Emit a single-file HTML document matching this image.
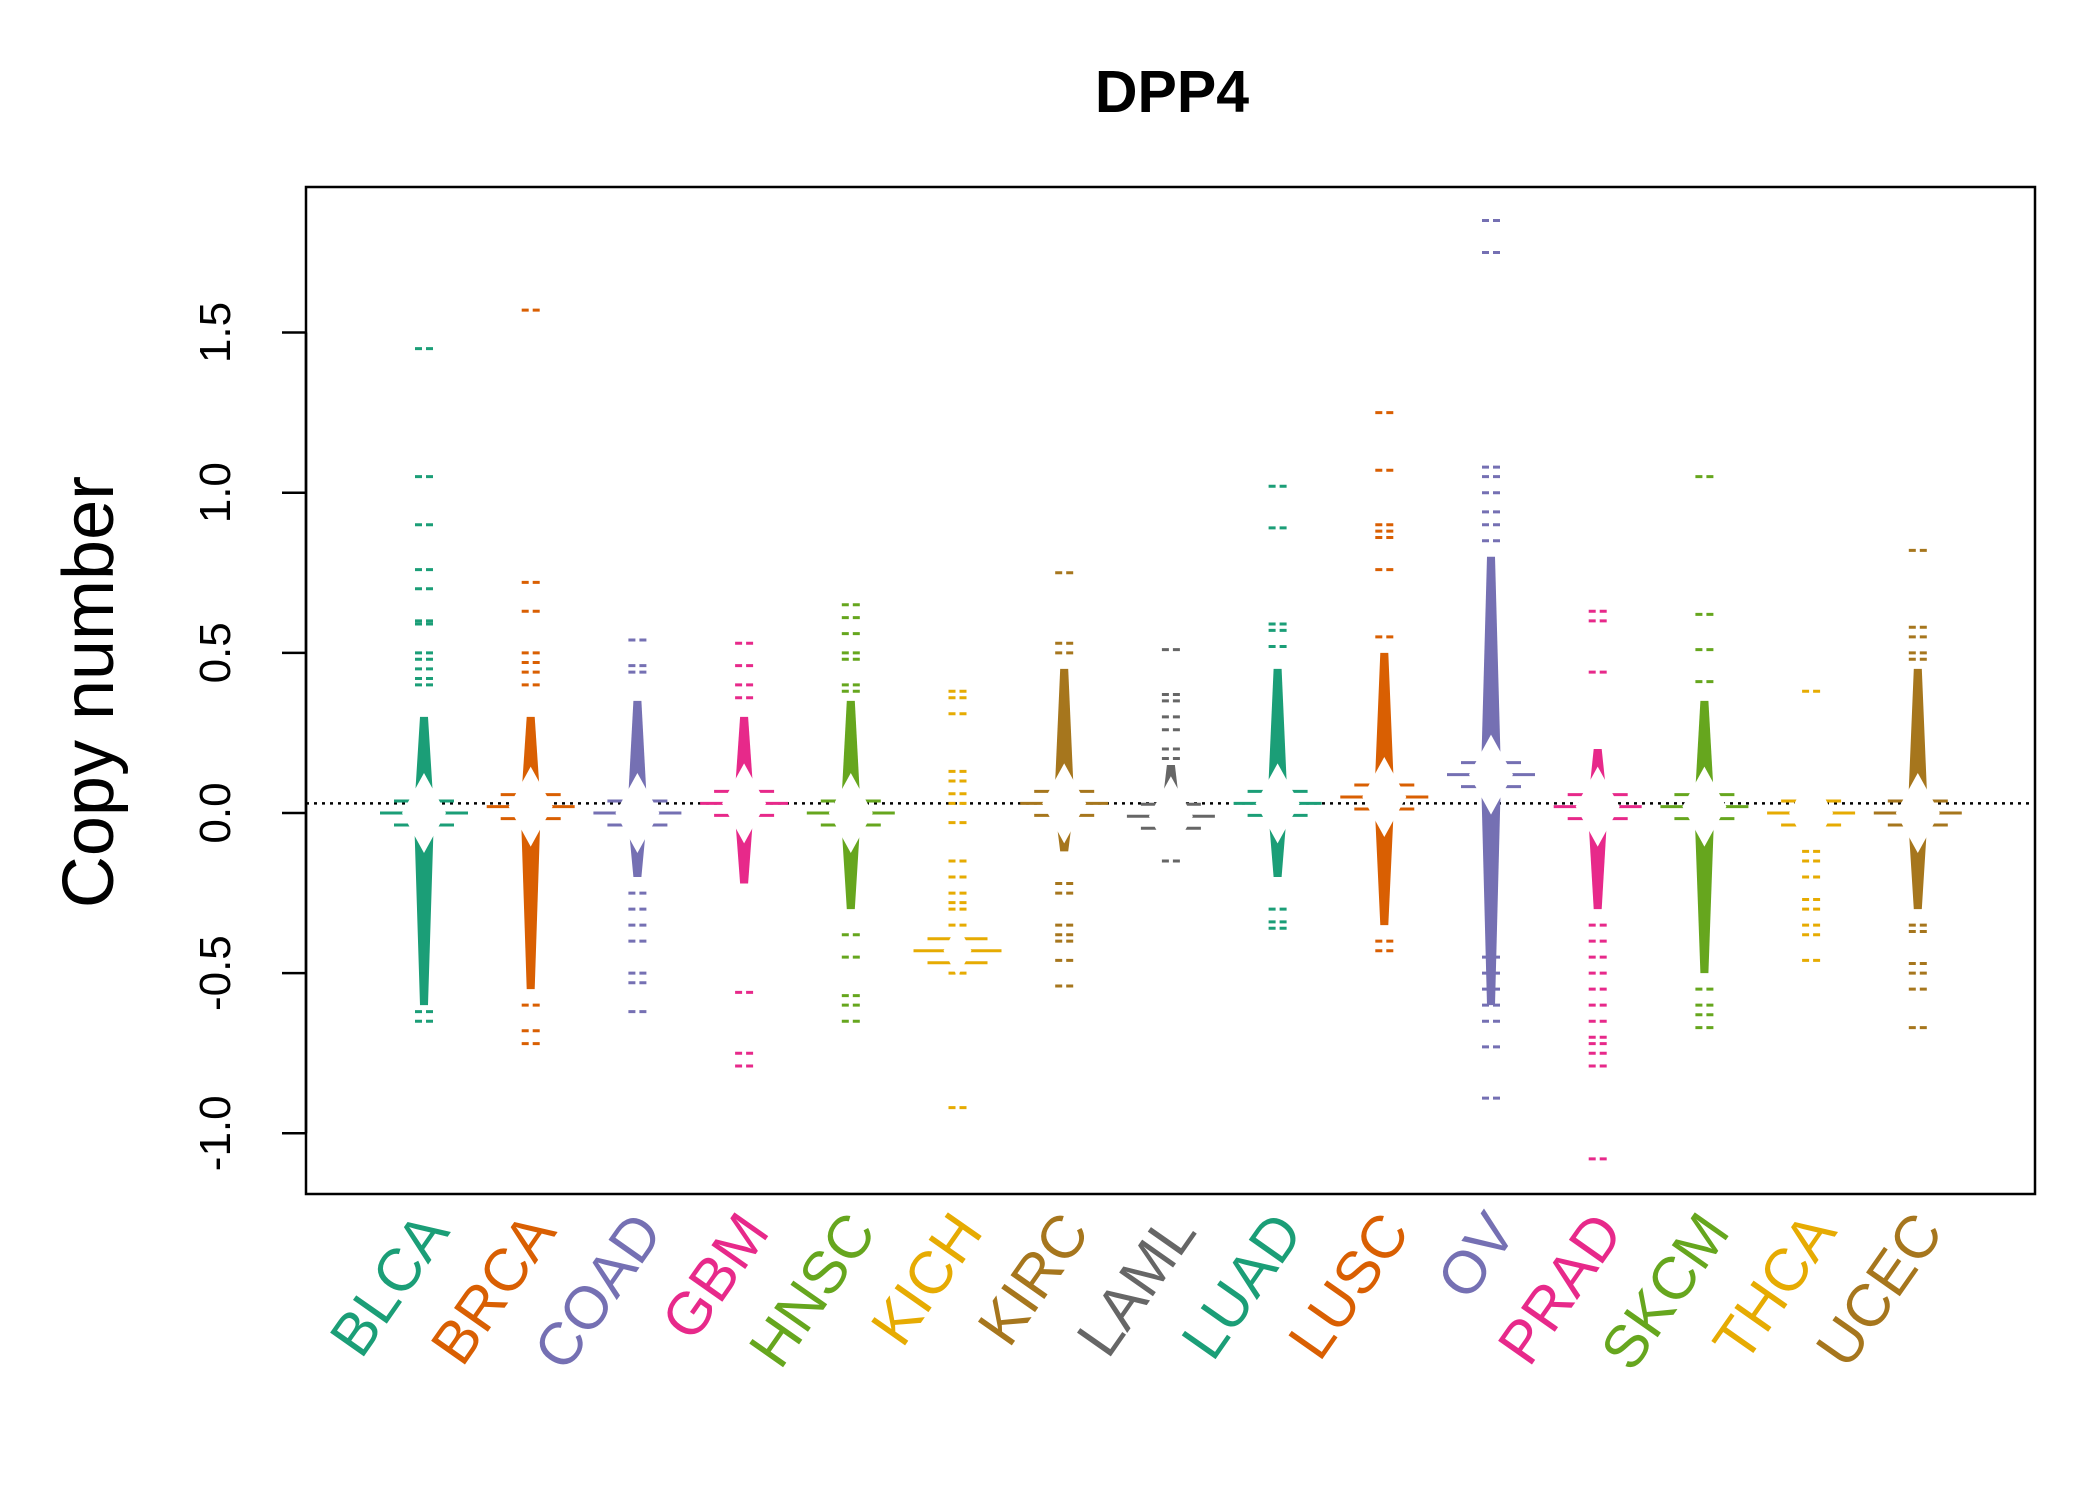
<!DOCTYPE html>
<html><head><meta charset="utf-8"><style>
html,body{margin:0;padding:0;background:#fff;}
svg{display:block;font-family:"Liberation Sans",Arial,sans-serif;}
</style></head><body>
<svg id="chart" width="2100" height="1500" viewBox="0 0 2100 1500">
<rect x="0" y="0" width="2100" height="1500" fill="#fff"/>
<text x="1172" y="112" text-anchor="middle" font-size="59" font-weight="bold">DPP4</text>
<text transform="translate(113,692) rotate(-90)" text-anchor="middle" font-size="72">Copy number</text>
<g id="plot"></g>
<rect x="306" y="187" width="1729" height="1007" fill="none" stroke="#000" stroke-width="2.5"/>
</svg>
<script>
const categories = ["BLCA","BRCA","COAD","GBM","HNSC","KICH","KIRC","LAML","LUAD","LUSC","OV","PRAD","SKCM","THCA","UCEC"];
const colors = ["#1B9E77","#D95F02","#7570B3","#E7298A","#66A61E","#E6AB02","#A6761D","#666666","#1B9E77","#D95F02","#7570B3","#E7298A","#66A61E","#E6AB02","#A6761D"];
const yTicks = [-1.0,-0.5,0.0,0.5,1.0,1.5];
const yTickLabels = ["-1.0","-0.5","0.0","0.5","1.0","1.5"];
const refLine = 0.03;
const centers = [0.0,0.02,0.0,0.03,0.0,-0.43,0.03,-0.01,0.03,0.05,0.12,0.02,0.02,0.0,0.0];
const denseLo = [-0.6,-0.55,-0.2,-0.22,-0.3,-0.45,-0.12,-0.05,-0.2,-0.35,-0.6,-0.3,-0.5,-0.1,-0.3];
const denseHi = [0.3,0.3,0.35,0.3,0.35,-0.38,0.45,0.15,0.45,0.5,0.8,0.2,0.35,0.05,0.45];
const outliers = [
 [1.45,1.05,0.9,0.76,0.7,0.6,0.59,0.5,0.48,0.45,0.42,0.4,-0.62,-0.65],
 [1.57,0.72,0.63,0.5,0.47,0.44,0.4,-0.6,-0.68,-0.72],
 [0.54,0.46,0.44,-0.25,-0.3,-0.35,-0.4,-0.5,-0.53,-0.62],
 [0.53,0.46,0.4,0.36,-0.56,-0.75,-0.79],
 [0.65,0.61,0.56,0.5,0.48,0.4,0.38,-0.38,-0.45,-0.57,-0.6,-0.65],
 [0.38,0.36,0.31,0.13,0.1,0.06,0.03,-0.03,-0.15,-0.2,-0.25,-0.28,-0.3,-0.35,-0.5,-0.92],
 [0.75,0.53,0.5,-0.22,-0.25,-0.35,-0.38,-0.4,-0.46,-0.54],
 [0.51,0.37,0.35,0.3,0.26,0.2,0.17,-0.15],
 [1.02,0.89,0.59,0.57,0.52,-0.3,-0.34,-0.36],
 [1.25,1.07,0.9,0.88,0.86,0.76,0.55,-0.4,-0.43],
 [1.85,1.75,1.08,1.05,1.0,0.94,0.9,0.85,-0.45,-0.5,-0.55,-0.6,-0.65,-0.73,-0.89],
 [0.63,0.6,0.44,-0.35,-0.4,-0.45,-0.5,-0.55,-0.6,-0.65,-0.7,-0.72,-0.75,-0.79,-1.08],
 [1.05,0.62,0.51,0.41,-0.55,-0.6,-0.63,-0.67],
 [0.38,-0.12,-0.15,-0.2,-0.27,-0.3,-0.35,-0.38,-0.46],
 [0.82,0.58,0.55,0.5,0.48,-0.35,-0.37,-0.47,-0.5,-0.55,-0.67]
];
const NS="http://www.w3.org/2000/svg";
const svg=document.getElementById('chart');
const plot=document.getElementById('plot');
function yScale(v){return 813 - v*320.3;}
function xScale(i){return 424 + i*106.7;}
function mk(tag,attrs,parent){const e=document.createElementNS(NS,tag);for(const k in attrs)e.setAttribute(k,attrs[k]);(parent||plot).appendChild(e);return e;}

const ax=mk('line',{x1:306,x2:306,y1:yScale(yTicks[0]),y2:yScale(yTicks[yTicks.length-1]),stroke:'#000','stroke-width':2.5},svg);


yTicks.forEach((t,i)=>{
 const tk=mk('line',{x1:282,x2:306,y1:yScale(t),y2:yScale(t),stroke:'#000','stroke-width':2.5},svg);
 
 
 const tl=mk('text',{transform:`translate(230,${yScale(t)}) rotate(-90)`,'text-anchor':'middle','font-size':44},svg);
 tl.textContent=yTickLabels[i];
 
 
});

const rl=mk('line',{x1:306,x2:2035,y1:yScale(refLine),y2:yScale(refLine),stroke:'#000','stroke-width':2.5,'stroke-dasharray':'3 5'});



categories.forEach((c,i)=>{
 const x=xScale(i), col=colors[i];
 const g=mk('g',{});
 
 
 const yt=yScale(denseHi[i]), yb=yScale(denseLo[i]), yc=Math.min(Math.max(yScale(centers[i]),yt),yb);
 const b=mk('polygon',{points:`${x-4},${yt} ${x+4},${yt} ${x+10},${yc} ${x+4},${yb} ${x-4},${yb} ${x-10},${yc}`,fill:col},g);
 
 
 outliers[i].forEach(v=>{
  const d=mk('line',{x1:x-9,x2:x+9,y1:yScale(v),y2:yScale(v),stroke:col,'stroke-width':3,'stroke-dasharray':'7 4'},g);
  
  
 });
 const cy=yScale(centers[i]);
 const w=i===5?14:22, h=i===5?26:40;
 mk('line',{x1:x-44,x2:x+44,y1:cy,y2:cy,stroke:col,'stroke-width':3},g);
 mk('line',{x1:x-30,x2:x+30,y1:cy-12,y2:cy-12,stroke:col,'stroke-width':3},g);
 mk('line',{x1:x-30,x2:x+30,y1:cy+12,y2:cy+12,stroke:col,'stroke-width':3},g);
 const dm=mk('polygon',{points:`${x},${cy-h} ${x+w},${cy} ${x},${cy+h} ${x-w},${cy}`,fill:'#fff',stroke:'none'},g);
 
 
 const lb=mk('text',{transform:`translate(${x+27},1232) rotate(-55)`,'text-anchor':'end','font-size':60,fill:col},svg);
 lb.textContent=c;
 
 
});
</script>
</body></html>
